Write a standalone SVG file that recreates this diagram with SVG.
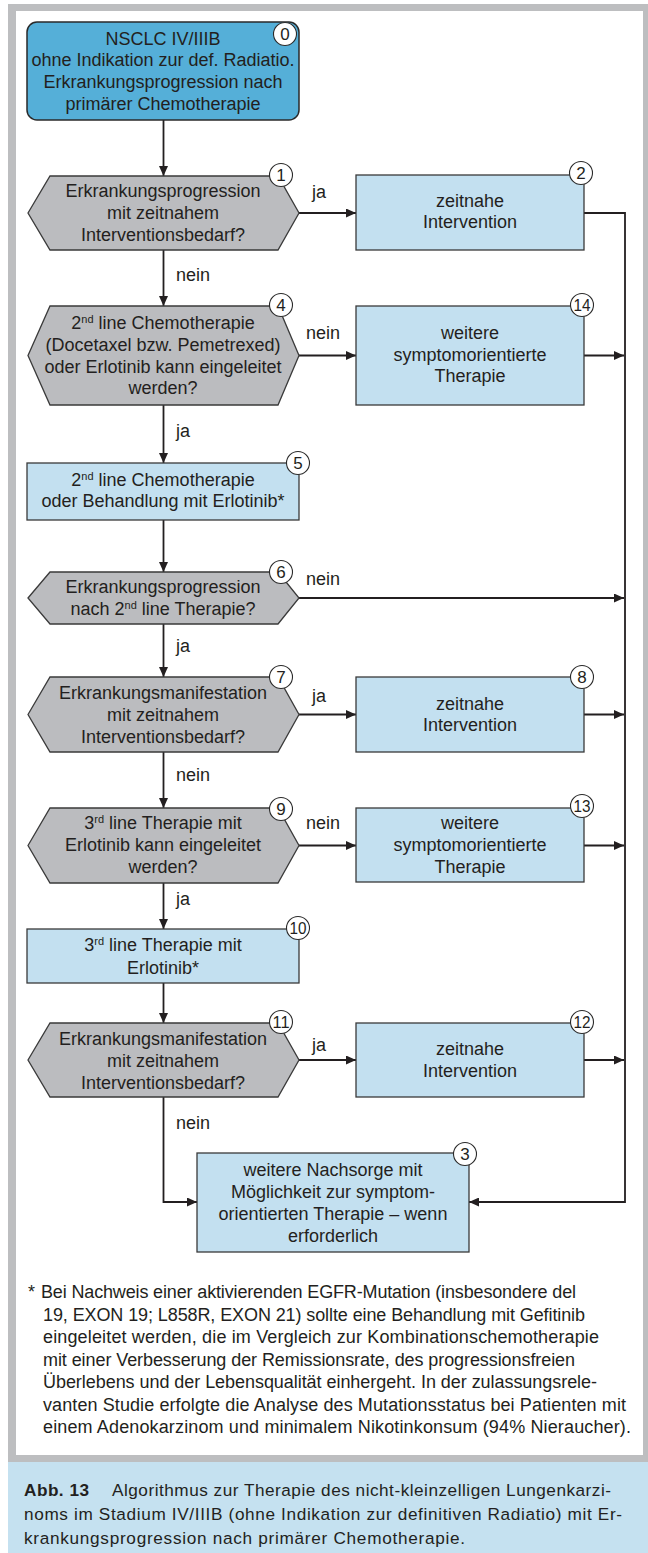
<svg xmlns="http://www.w3.org/2000/svg" width="648" height="1553" viewBox="0 0 648 1553">
<defs>
<style>
.t{font-family:"Liberation Sans",Arial,sans-serif;font-size:18px;fill:#231f20;text-anchor:middle}
.l{font-family:"Liberation Sans",Arial,sans-serif;font-size:18px;fill:#231f20}
.n{font-family:"Liberation Sans",Arial,sans-serif;font-size:17px;fill:#231f20;text-anchor:middle}
.fn{font-family:"Liberation Sans",Arial,sans-serif;font-size:18px;fill:#231f20}
.cap{font-family:"Liberation Sans",Arial,sans-serif;font-size:17.2px;fill:#231f20}
.hex{fill:#bbbcbf;stroke:#3a3a3a;stroke-width:1.3}
.box{fill:#c3e0f0;stroke:#3a3a3a;stroke-width:1.3}
.start{fill:#55afd8;stroke:#2a2a2a;stroke-width:1.5}
.c{fill:#fff;stroke:#2a2a2a;stroke-width:1.1}
.sup{font-size:11px}
.cn{fill:none;stroke:#231f20;stroke-width:1.8}
</style>
<marker id="ah" markerUnits="userSpaceOnUse" markerWidth="10" markerHeight="9" refX="10" refY="4.5" orient="auto">
<path d="M0,0 L10,4.5 L0,9 z" fill="#231f20"/>
</marker>
</defs>

<!-- frame -->
<rect x="8" y="4" width="640" height="1458" fill="#bdbec0"/>
<rect x="16" y="11" width="627" height="1444" fill="#ffffff"/>
<rect x="8" y="1462" width="640" height="91" fill="#c5e1f0"/>

<!-- connectors -->
<g id="connectors">
<path class="cn" d="M163.5,120 V176" marker-end="url(#ah)"/>
<path class="cn" d="M299,213 H356" marker-end="url(#ah)"/>
<path class="cn" d="M584,213 H625 V1202 H469" marker-end="url(#ah)"/>
<path class="cn" d="M163.5,250 V306" marker-end="url(#ah)"/>
<path class="cn" d="M299,355.5 H356" marker-end="url(#ah)"/>
<path class="cn" d="M584,355.5 H624" marker-end="url(#ah)"/>
<path class="cn" d="M163.5,405 V463" marker-end="url(#ah)"/>
<path class="cn" d="M163.5,520 V572" marker-end="url(#ah)"/>
<path class="cn" d="M299,598 H624" marker-end="url(#ah)"/>
<path class="cn" d="M163.5,624 V677" marker-end="url(#ah)"/>
<path class="cn" d="M299,714.5 H356" marker-end="url(#ah)"/>
<path class="cn" d="M584,714.5 H624" marker-end="url(#ah)"/>
<path class="cn" d="M163.5,752 V808" marker-end="url(#ah)"/>
<path class="cn" d="M299,845.5 H356" marker-end="url(#ah)"/>
<path class="cn" d="M584,845.5 H624" marker-end="url(#ah)"/>
<path class="cn" d="M163.5,883 V929" marker-end="url(#ah)"/>
<path class="cn" d="M163.5,983 V1023" marker-end="url(#ah)"/>
<path class="cn" d="M299,1060 H356" marker-end="url(#ah)"/>
<path class="cn" d="M584,1060 H624" marker-end="url(#ah)"/>
<path class="cn" d="M163.5,1097 V1202 H197" marker-end="url(#ah)"/>
<text class="l" x="312" y="198">ja</text>
<text class="l" x="176" y="281">nein</text>
<text class="l" x="306" y="339">nein</text>
<text class="l" x="176" y="437">ja</text>
<text class="l" x="306" y="585">nein</text>
<text class="l" x="176" y="652">ja</text>
<text class="l" x="312" y="702">ja</text>
<text class="l" x="176" y="781">nein</text>
<text class="l" x="306" y="829">nein</text>
<text class="l" x="176" y="905">ja</text>
<text class="l" x="312" y="1051">ja</text>
<text class="l" x="176" y="1129">nein</text>
</g>

<g id="node0">
<rect class="start" x="27" y="22" width="272" height="98" rx="10"/>
<text class="t" x="163" y="44.5">NSCLC IV/IIIB</text>
<text class="t" x="163" y="66.3">ohne Indikation zur def. Radiatio.</text>
<text class="t" x="163" y="88.1">Erkrankungsprogression nach</text>
<text class="t" x="163" y="109.9">primärer Chemotherapie</text>
<circle class="c" cx="285" cy="34" r="11.5"/>
<text class="n" x="285" y="40">0</text>
</g>

<g id="node1">
<polygon class="hex" points="28,213 50,176 278,176 299,213 278,250 50,250"/>
<text class="t" x="163" y="197">Erkrankungsprogression</text>
<text class="t" x="163" y="219">mit zeitnahem</text>
<text class="t" x="163" y="241">Interventionsbedarf?</text>
<circle class="c" cx="281" cy="175" r="11.5"/>
<text class="n" x="281" y="181">1</text>
</g>

<g id="node2">
<rect class="box" x="356" y="175" width="228" height="75"/>
<text class="t" x="470" y="206.5">zeitnahe</text>
<text class="t" x="470" y="228">Intervention</text>
<circle class="c" cx="581" cy="173" r="11.5"/>
<text class="n" x="581" y="179">2</text>
</g>

<g id="node4">
<polygon class="hex" points="28,355.5 50,306 278,306 299,355.5 278,405 50,405"/>
<text class="t" x="163" y="329">2<tspan class="sup" dy="-6">nd</tspan><tspan dy="6"> line Chemotherapie</tspan></text>
<text class="t" x="163" y="351">(Docetaxel bzw. Pemetrexed)</text>
<text class="t" x="163" y="372.5">oder Erlotinib kann eingeleitet</text>
<text class="t" x="163" y="394">werden?</text>
<circle class="c" cx="281" cy="305" r="11.5"/>
<text class="n" x="281" y="311">4</text>
</g>

<g id="node14">
<rect class="box" x="356" y="306" width="228" height="99"/>
<text class="t" x="470" y="339">weitere</text>
<text class="t" x="470" y="360.5">symptomorientierte</text>
<text class="t" x="470" y="382.3">Therapie</text>
<circle class="c" cx="582" cy="305" r="11.5"/>
<text class="n" x="582" y="311" textLength="17" lengthAdjust="spacingAndGlyphs">14</text>
</g>

<g id="node5">
<rect class="box" x="27" y="463" width="272" height="57"/>
<text class="t" x="163" y="485.5">2<tspan class="sup" dy="-6">nd</tspan><tspan dy="6"> line Chemotherapie</tspan></text>
<text class="t" x="163" y="507">oder Behandlung mit Erlotinib*</text>
<circle class="c" cx="298" cy="463" r="11.5"/>
<text class="n" x="298" y="469">5</text>
</g>

<g id="node6">
<polygon class="hex" points="28,598 50,572 278,572 299,598 278,624 50,624"/>
<text class="t" x="163" y="593">Erkrankungsprogression</text>
<text class="t" x="163" y="615">nach 2<tspan class="sup" dy="-6">nd</tspan><tspan dy="6"> line Therapie?</tspan></text>
<circle class="c" cx="281" cy="572" r="11.5"/>
<text class="n" x="281" y="578">6</text>
</g>

<g id="node7">
<polygon class="hex" points="28,714.5 50,677 278,677 299,714.5 278,752 50,752"/>
<text class="t" x="163" y="699">Erkrankungsmanifestation</text>
<text class="t" x="163" y="721">mit zeitnahem</text>
<text class="t" x="163" y="743">Interventionsbedarf?</text>
<circle class="c" cx="281" cy="677" r="11.5"/>
<text class="n" x="281" y="683">7</text>
</g>

<g id="node8">
<rect class="box" x="356" y="677" width="228" height="75"/>
<text class="t" x="470" y="709.5">zeitnahe</text>
<text class="t" x="470" y="731">Intervention</text>
<circle class="c" cx="582" cy="677" r="11.5"/>
<text class="n" x="582" y="683">8</text>
</g>

<g id="node9">
<polygon class="hex" points="28,845.5 50,808 278,808 299,845.5 278,883 50,883"/>
<text class="t" x="163" y="829">3<tspan class="sup" dy="-6">rd</tspan><tspan dy="6"> line Therapie mit</tspan></text>
<text class="t" x="163" y="851">Erlotinib kann eingeleitet</text>
<text class="t" x="163" y="873">werden?</text>
<circle class="c" cx="281" cy="809" r="11.5"/>
<text class="n" x="281" y="815">9</text>
</g>

<g id="node13">
<rect class="box" x="356" y="808" width="228" height="74"/>
<text class="t" x="470" y="829">weitere</text>
<text class="t" x="470" y="851">symptomorientierte</text>
<text class="t" x="470" y="873">Therapie</text>
<circle class="c" cx="582" cy="806" r="11.5"/>
<text class="n" x="582" y="812" textLength="17" lengthAdjust="spacingAndGlyphs">13</text>
</g>

<g id="node10">
<rect class="box" x="27" y="929" width="272" height="54"/>
<text class="t" x="163" y="950.5">3<tspan class="sup" dy="-6">rd</tspan><tspan dy="6"> line Therapie mit</tspan></text>
<text class="t" x="163" y="973.5">Erlotinib*</text>
<circle class="c" cx="298" cy="928" r="11.5"/>
<text class="n" x="298" y="934" textLength="17" lengthAdjust="spacingAndGlyphs">10</text>
</g>

<g id="node11">
<polygon class="hex" points="28,1060 50,1023 278,1023 299,1060 278,1097 50,1097"/>
<text class="t" x="163" y="1045">Erkrankungsmanifestation</text>
<text class="t" x="163" y="1067">mit zeitnahem</text>
<text class="t" x="163" y="1089">Interventionsbedarf?</text>
<circle class="c" cx="281" cy="1022" r="11.5"/>
<text class="n" x="281" y="1028" textLength="17" lengthAdjust="spacingAndGlyphs">11</text>
</g>

<g id="node12">
<rect class="box" x="356" y="1023" width="228" height="74"/>
<text class="t" x="470" y="1055">zeitnahe</text>
<text class="t" x="470" y="1077">Intervention</text>
<circle class="c" cx="582" cy="1022" r="11.5"/>
<text class="n" x="582" y="1028" textLength="17" lengthAdjust="spacingAndGlyphs">12</text>
</g>

<g id="node3">
<rect class="box" x="197" y="1153" width="272" height="99"/>
<text class="t" x="333" y="1176">weitere Nachsorge mit</text>
<text class="t" x="333" y="1198">Möglichkeit zur symptom-</text>
<text class="t" x="333" y="1220">orientierten Therapie – wenn</text>
<text class="t" x="333" y="1242">erforderlich</text>
<circle class="c" cx="465" cy="1154" r="11.5"/>
<text class="n" x="465" y="1160">3</text>
</g>

<g id="footnote">
<text class="fn" x="28" y="1298">*</text>
<text class="fn" x="41" y="1298" textLength="535" lengthAdjust="spacing">Bei Nachweis einer aktivierenden EGFR-Mutation (insbesondere del</text>
<text class="fn" x="43" y="1320.5" textLength="542" lengthAdjust="spacing">19, EXON 19; L858R, EXON 21) sollte eine Behandlung mit Gefitinib</text>
<text class="fn" x="43" y="1343" textLength="556" lengthAdjust="spacing">eingeleitet werden, die im Vergleich zur Kombinationschemotherapie</text>
<text class="fn" x="43" y="1365.5" textLength="532" lengthAdjust="spacing">mit einer Verbesserung der Remissionsrate, des progressionsfreien</text>
<text class="fn" x="43" y="1388" textLength="554" lengthAdjust="spacing">Überlebens und der Lebensqualität einhergeht. In der zulassungsrele-</text>
<text class="fn" x="43" y="1410.5" textLength="583" lengthAdjust="spacing">vanten Studie erfolgte die Analyse des Mutationsstatus bei Patienten mit</text>
<text class="fn" x="43" y="1433" textLength="588" lengthAdjust="spacing">einem Adenokarzinom und minimalem Nikotinkonsum (94% Nieraucher).</text>
</g>

<g id="caption">
<text class="cap" x="24" y="1496" font-weight="bold" textLength="65" lengthAdjust="spacing">Abb. 13</text>
<text class="cap" x="112" y="1496" textLength="499" lengthAdjust="spacing">Algorithmus zur Therapie des nicht-kleinzelligen Lungenkarzi-</text>
<text class="cap" x="24" y="1520" textLength="598" lengthAdjust="spacing">noms im Stadium IV/IIIB (ohne Indikation zur definitiven Radiatio) mit Er-</text>
<text class="cap" x="24" y="1544" textLength="441" lengthAdjust="spacing">krankungsprogression nach primärer Chemotherapie.</text>
</g>
</svg>
